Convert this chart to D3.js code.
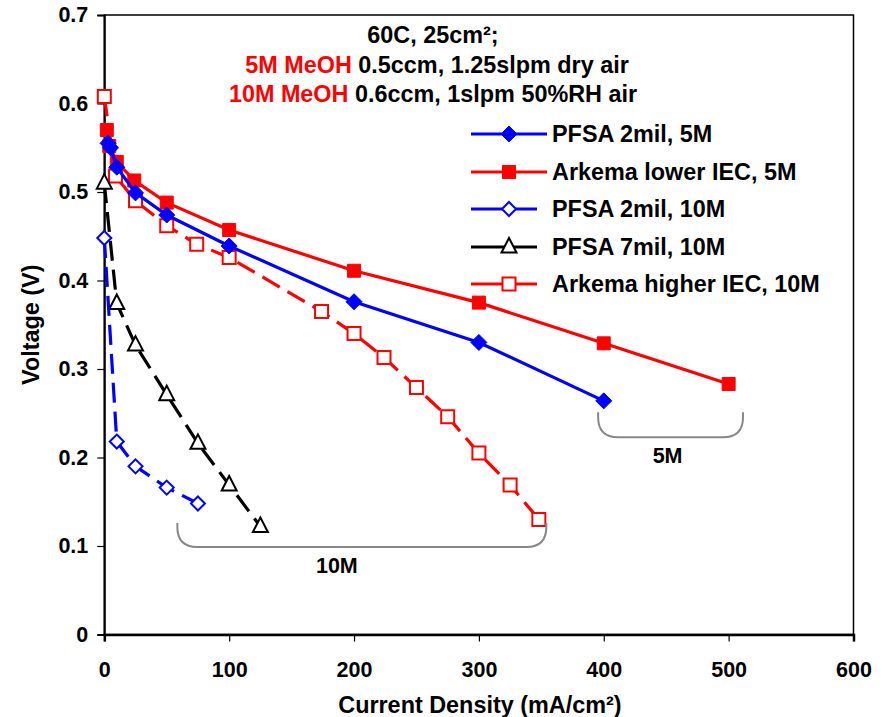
<!DOCTYPE html>
<html>
<head>
<meta charset="utf-8">
<script src="https://cdn.jsdelivr.net/npm/d3@7"></script>
<style>
  html, body { margin: 0; padding: 0; background: #fff; }
  svg { display: block; font-family: "Liberation Sans", Arial, sans-serif; font-weight: bold; }
</style>
</head>
<body>
<svg id="chart" width="889" height="717"></svg>
<script>
// ---------- data ----------
const xTicks = [0, 100, 200, 300, 400, 500, 600];
const yTicks = [0, 0.1, 0.2, 0.3, 0.4, 0.5, 0.6, 0.7];

const pfsa2mil5M_x = [3, 5, 10, 25, 50, 100, 200, 300, 400];
const pfsa2mil5M_y = [0.555, 0.550, 0.528, 0.499, 0.474, 0.439, 0.376, 0.330, 0.264];

const arkemaLower5M_x = [2, 4, 10, 24, 50, 100, 200, 300, 400, 500];
const arkemaLower5M_y = [0.570, 0.552, 0.534, 0.513, 0.488, 0.457, 0.411, 0.375, 0.329, 0.283];

const pfsa2mil10M_x = [0, 10, 25, 50, 75];
const pfsa2mil10M_y = [0.448, 0.218, 0.190, 0.166, 0.148];

const pfsa7mil10M_x = [0, 10, 25, 50, 75, 100, 125];
const pfsa7mil10M_y = [0.510, 0.374, 0.327, 0.271, 0.216, 0.169, 0.122];

const arkemaHigher10M_x = [0, 9, 25, 50, 74, 100, 174, 200, 224, 250, 275, 300, 325, 348];
const arkemaHigher10M_y = [0.608, 0.518, 0.490, 0.462, 0.441, 0.426, 0.365, 0.340, 0.313, 0.279, 0.246, 0.205, 0.169, 0.130];

const seriesNames = ["PFSA 2mil, 5M", "Arkema lower IEC, 5M", "PFSA 2mil, 10M", "PFSA 7mil, 10M", "Arkema higher IEC, 10M"];

// bracket annotations, in data units: [x0, x1, yTop, yBottom]
const bracket5M = [395.5, 511.5, 0.251, 0.223];
const bracket10M = [58.5, 354, 0.126, 0.099];
const bracketLabels = ["5M", "10M"];

const noteLine1 = "60C, 25cm²;";
const noteLine2 = ["5M MeOH", " 0.5ccm, 1.25slpm dry air"];
const noteLine3 = ["10M MeOH", " 0.6ccm, 1slpm 50%RH air"];

const xTitle = "Current Density (mA/cm²)";
const yTitle = "Voltage (V)";

// ---------- layout ----------
const W = 889, H = 717;
const plot = { left: 104.3, right: 853.5, top: 15, bottom: 634.5 };

const x = d3.scaleLinear().domain([0, 600]).range([plot.left, plot.right]);
const y = d3.scaleLinear().domain([0, 0.7]).range([plot.bottom, plot.top]);

const svg = d3.select("#chart");
svg.append("rect").attr("width", W).attr("height", H).attr("fill", "#fff");

const FS_TICK = 21.5;
const FS_TEXT = 23.4;

// plot frame
svg.append("rect")
  .attr("x", plot.left).attr("y", plot.top)
  .attr("width", plot.right - plot.left).attr("height", plot.bottom - plot.top)
  .attr("fill", "none").attr("stroke", "#000").attr("stroke-width", 1.5);

// axes
const xAxis = d3.axisBottom(x).tickValues(xTicks).tickSize(7).tickPadding(20).tickFormat(d3.format("d"));
const yAxis = d3.axisLeft(y).tickValues(yTicks).tickSize(7).tickPadding(9).tickFormat(d => d === 0 ? "0" : d3.format(".1f")(d));

const gx = svg.append("g").attr("transform", `translate(0,${plot.bottom})`).call(xAxis);
const gy = svg.append("g").attr("transform", `translate(${plot.left},0)`).call(yAxis);
[gx, gy].forEach(g => {
  g.select(".domain").attr("stroke", "#000");
  g.selectAll(".tick line").attr("stroke", "#000").attr("stroke-width", 1.2);
  g.selectAll(".tick text").attr("fill", "#000")
    .style("font-size", FS_TICK + "px").style("font-weight", "bold")
    .style("font-family", "'Liberation Sans', Arial, sans-serif");
});
gy.select(".domain").attr("stroke-width", 2);
gx.select(".domain").attr("stroke-width", 2.5);

// axis titles
svg.append("text").attr("x", (plot.left + plot.right) / 2 + 1).attr("y", 713)
  .attr("text-anchor", "middle").style("font-size", FS_TEXT + "px").text(xTitle);
svg.append("text").attr("transform", `translate(38.5,${(plot.top + plot.bottom) / 2}) rotate(-90)`)
  .attr("text-anchor", "middle").style("font-size", FS_TEXT + "px").text(yTitle);

// ---------- series ----------
const BLUE = "#0000FF", RED = "#FF0000";
const series = [
  { name: seriesNames[0], xs: pfsa2mil5M_x, ys: pfsa2mil5M_y, color: BLUE, dash: null, marker: "diamond", fill: true },
  { name: seriesNames[1], xs: arkemaLower5M_x, ys: arkemaLower5M_y, color: RED, dash: null, marker: "square", fill: true },
  { name: seriesNames[2], xs: pfsa2mil10M_x, ys: pfsa2mil10M_y, color: BLUE, dash: "20,9", marker: "diamond", fill: false },
  { name: seriesNames[3], xs: pfsa7mil10M_x, ys: pfsa7mil10M_y, color: "#000", dash: "20,9", marker: "triangle", fill: false },
  { name: seriesNames[4], xs: arkemaHigher10M_x, ys: arkemaHigher10M_y, color: RED, dash: "20,9", marker: "square", fill: false }
];

function markerPath(type, fill) {
  if (type === "diamond") return fill ? "M0,-8L8,0L0,8L-8,0Z" : "M0,-7L7,0L0,7L-7,0Z";
  if (type === "square") return "M-6.5,-6.5H6.5V6.5H-6.5Z";
  if (type === "triangle") return "M0,-9L7.5,5.5L-7.5,5.5Z";
}

function drawMarker(g, s, cx, cy) {
  g.append("path")
    .attr("d", markerPath(s.marker, s.fill))
    .attr("transform", `translate(${cx},${cy})`)
    .attr("fill", s.fill ? s.color : "#fff")
    .attr("stroke", s.color)
    .attr("stroke-width", s.fill ? 1 : 2);
}

const line = d3.line().x(d => x(d[0])).y(d => y(d[1]));
const gSeries = svg.append("g");
series.slice().reverse().forEach(s => {
  const pts = s.xs.map((v, i) => [v, s.ys[i]]);
  const g = gSeries.append("g");
  g.append("path").datum(pts).attr("d", line)
    .attr("fill", "none").attr("stroke", s.color).attr("stroke-width", 3.2)
    .attr("stroke-dasharray", s.dash);
  pts.forEach(p => drawMarker(g, s, x(p[0]), y(p[1])));
});

// ---------- brackets ----------
function bracket(b) {
  const x0 = x(b[0]), x1 = x(b[1]), yt = y(b[2]), yb = y(b[3]);
  const r = Math.min(20, (yb - yt));
  const p = d3.path();
  p.moveTo(x0, yt);
  p.lineTo(x0, yb - r);
  p.quadraticCurveTo(x0, yb, x0 + r, yb);
  p.lineTo(x1 - r, yb);
  p.quadraticCurveTo(x1, yb, x1, yb - r);
  p.lineTo(x1, yt);
  svg.append("path").attr("d", p.toString()).attr("fill", "none")
    .attr("stroke", "#888").attr("stroke-width", 2);
  return [(x0 + x1) / 2, yb];
}
const c5 = bracket(bracket5M);
svg.append("text").attr("x", c5[0] - 3).attr("y", c5[1] + 26).attr("text-anchor", "middle")
  .style("font-size", FS_TICK + "px").text(bracketLabels[0]);
const c10 = bracket(bracket10M);
svg.append("text").attr("x", c10[0] - 25).attr("y", c10[1] + 26).attr("text-anchor", "middle")
  .style("font-size", FS_TICK + "px").text(bracketLabels[1]);

// ---------- notes ----------
const noteX = 435;
svg.append("text").attr("x", noteX - 2).attr("y", 43).attr("text-anchor", "middle")
  .style("font-size", FS_TEXT + "px").text(noteLine1);
const t2 = svg.append("text").attr("x", noteX + 2).attr("y", 72.5).attr("text-anchor", "middle").style("font-size", FS_TEXT + "px");
t2.append("tspan").attr("fill", RED).text(noteLine2[0]);
t2.append("tspan").attr("fill", "#000").text(noteLine2[1]);
const t3 = svg.append("text").attr("x", noteX - 2).attr("y", 101.5).attr("text-anchor", "middle").style("font-size", FS_TEXT + "px");
t3.append("tspan").attr("fill", RED).text(noteLine3[0]);
t3.append("tspan").attr("fill", "#000").text(noteLine3[1]);

// ---------- legend ----------
const legY = [134, 172, 209, 247, 284];
const leg = svg.append("g");
series.forEach((s, i) => {
  const yy = legY[i];
  leg.append("line").attr("x1", 471).attr("x2", s.fill ? 547 : 537).attr("y1", yy).attr("y2", yy)
    .attr("stroke", s.color).attr("stroke-width", 3.2);
  drawMarker(leg, s, 509, yy);
  leg.append("text").attr("x", 552).attr("y", yy + 8)
    .style("font-size", FS_TEXT + "px").text(s.name);
});
</script>
</body>
</html>
